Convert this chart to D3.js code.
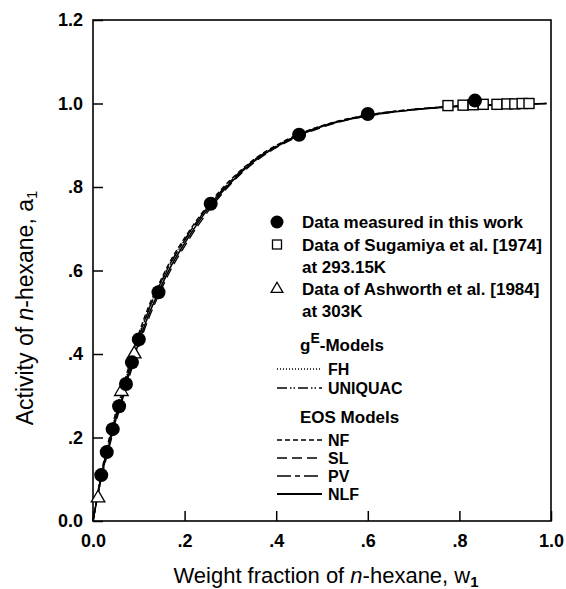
<!DOCTYPE html>
<html><head><meta charset="utf-8">
<script src="https://cdn.jsdelivr.net/npm/d3@7"></script>
<style>body{margin:0;background:#fff}svg{display:block}text{font-family:"Liberation Sans",Arial,sans-serif;fill:#000}</style>
</head><body><svg id="c" width="566" height="589"></svg>
<script>
const xTicks = [0, 0.2, 0.4, 0.6, 0.8, 1.0];
const xTickLabels = ["0.0", ".2", ".4", ".6", ".8", "1.0"];
const yTicks = [0, 0.2, 0.4, 0.6, 0.8, 1.0, 1.2];
const yTickLabels = ["0.0", ".2", ".4", ".6", ".8", "1.0", "1.2"];

// measured in this work
const measW = [0.018, 0.03, 0.043, 0.057, 0.072, 0.085, 0.10, 0.143, 0.257, 0.45, 0.60, 0.834];
const measA = [0.11, 0.165, 0.22, 0.275, 0.328, 0.38, 0.435, 0.548, 0.76, 0.925, 0.975, 1.007];
// Sugamiya et al. 1974
const sugW = [0.775, 0.808, 0.83, 0.852, 0.882, 0.904, 0.921, 0.937, 0.952];
const sugA = [0.995, 0.996, 0.997, 0.998, 0.998, 0.999, 0.999, 1.0, 1.0];
// Ashworth et al. 1984
const ashW = [0.011, 0.062, 0.09];
const ashA = [0.055, 0.31, 0.40];

// model curves
const curveW = [0, 0.005, 0.01, 0.018, 0.03, 0.043, 0.057, 0.072, 0.085, 0.10, 0.12, 0.143, 0.17, 0.2, 0.257, 0.3, 0.35, 0.4, 0.45, 0.5, 0.55, 0.6, 0.7, 0.8, 0.9, 0.99];
const fhA =   [0, 0.032, 0.064, 0.112, 0.17, 0.228, 0.287, 0.343, 0.392, 0.445, 0.506, 0.563, 0.622, 0.675, 0.762, 0.814, 0.862, 0.897, 0.924, 0.945, 0.96, 0.971, 0.985, 0.993, 0.997, 1.0];
const uniqA = [0, 0.031, 0.062, 0.109, 0.166, 0.222, 0.28, 0.336, 0.385, 0.438, 0.5, 0.557, 0.618, 0.672, 0.76, 0.813, 0.862, 0.898, 0.925, 0.946, 0.961, 0.972, 0.986, 0.994, 0.998, 1.0];
const nfA =   [0, 0.033, 0.066, 0.115, 0.174, 0.232, 0.291, 0.347, 0.396, 0.449, 0.51, 0.566, 0.625, 0.678, 0.765, 0.817, 0.865, 0.9, 0.927, 0.947, 0.962, 0.973, 0.986, 0.994, 0.998, 1.0];
const slA =   [0, 0.029, 0.058, 0.101, 0.154, 0.208, 0.264, 0.318, 0.366, 0.419, 0.481, 0.54, 0.602, 0.658, 0.75, 0.806, 0.857, 0.894, 0.922, 0.943, 0.959, 0.97, 0.985, 0.993, 0.997, 1.0];
const pvA =   [0, 0.031, 0.063, 0.11, 0.167, 0.224, 0.282, 0.338, 0.387, 0.44, 0.502, 0.559, 0.619, 0.673, 0.761, 0.814, 0.863, 0.898, 0.925, 0.946, 0.961, 0.972, 0.986, 0.994, 0.998, 1.0];
const nlfA =  [0, 0.03, 0.06, 0.105, 0.16, 0.215, 0.272, 0.327, 0.375, 0.428, 0.49, 0.548, 0.61, 0.665, 0.756, 0.81, 0.86, 0.896, 0.924, 0.945, 0.96, 0.971, 0.985, 0.993, 0.997, 1.0];

const models = [
  {name: "FH", vals: fhA, dash: "1,2", w: 1},
  {name: "UNIQUAC", vals: uniqA, dash: "10,3,1.5,2,1.5,3", w: 1.3},
  {name: "NF", vals: nfA, dash: "5,3", w: 1.3},
  {name: "SL", vals: slA, dash: "10,5", w: 1.3},
  {name: "PV", vals: pvA, dash: "14,4,5,4", w: 1.3},
  {name: "NLF", vals: nlfA, dash: null, w: 1.6}
];

const svg = d3.select("#c");
const L = 93, R = 551, T = 20, B = 521;
const x = d3.scaleLinear().domain([0, 1]).range([L, R]);
const y = d3.scaleLinear().domain([0, 1.2]).range([B, T]);

// frame
svg.append("rect").attr("x", L).attr("y", T).attr("width", R - L).attr("height", B - T)
  .attr("fill", "none").attr("stroke", "#000").attr("stroke-width", 1.6);

const xAxis = d3.axisBottom(x).tickValues(xTicks).tickSize(-10).tickPadding(13)
  .tickFormat((d, i) => xTickLabels[i]);
const yAxis = d3.axisLeft(y).tickValues(yTicks).tickSize(-10).tickPadding(10)
  .tickFormat((d, i) => yTickLabels[i]);

const gx = svg.append("g").attr("transform", `translate(0,${B})`).call(xAxis);
const gy = svg.append("g").attr("transform", `translate(${L},0)`).call(yAxis);
[gx, gy].forEach(g => {
  g.select(".domain").remove();
  g.selectAll(".tick line").attr("stroke", "#000").attr("stroke-width", 1.5);
  g.selectAll(".tick text").attr("font-size", 18).attr("font-weight", "bold")
    .attr("font-family", "Liberation Sans, Arial, sans-serif").attr("fill", "#000");
});

// curves
const line = d3.line().x(d => x(d[0])).y(d => y(d[1])).curve(d3.curveMonotoneX);
models.forEach(m => {
  svg.append("path").datum(curveW.map((w, i) => [w, m.vals[i]]))
    .attr("d", line).attr("fill", "none").attr("stroke", "#000")
    .attr("stroke-width", m.w).attr("stroke-dasharray", m.dash);
});

// markers
const tri = d3.symbol().type(d3.symbolTriangle);
svg.append("g").selectAll("path").data(ashW.map((w, i) => [w, ashA[i]])).join("path")
  .attr("d", tri.size(80)).attr("transform", d => `translate(${x(d[0])},${y(d[1])})`)
  .attr("fill", "#fff").attr("stroke", "#000").attr("stroke-width", 1.3);
svg.append("g").selectAll("rect").data(sugW.map((w, i) => [w, sugA[i]])).join("rect")
  .attr("x", d => x(d[0]) - 5).attr("y", d => y(d[1]) - 5).attr("width", 10).attr("height", 10)
  .attr("fill", "#fff").attr("stroke", "#000").attr("stroke-width", 1.4);
svg.append("g").selectAll("circle").data(measW.map((w, i) => [w, measA[i]])).join("circle")
  .attr("cx", d => x(d[0])).attr("cy", d => y(d[1])).attr("r", 7).attr("fill", "#000");

// axis titles
const xt = svg.append("text").attr("x", (L + R) / 2 + 4).attr("y", 583).attr("text-anchor", "middle")
  .attr("font-size", 22);
xt.append("tspan").text("Weight fraction of ");
xt.append("tspan").attr("font-style", "italic").text("n");
xt.append("tspan").text("-hexane, w");
xt.append("tspan").attr("font-size", 15).attr("dy", 4).attr("font-weight", "bold").text("1");

const yt = svg.append("text").attr("transform", `translate(33,308) rotate(-90)`)
  .attr("text-anchor", "middle").attr("font-size", 23);
yt.append("tspan").text("Activity of ");
yt.append("tspan").attr("font-style", "italic").text("n");
yt.append("tspan").text("-hexane, a");
yt.append("tspan").attr("font-size", 15).attr("dy", 4).text("1");

// legend
const lg = svg.append("g").attr("font-size", 17).attr("font-weight", "bold");
const mx = 277, tx = 302;
lg.append("circle").attr("cx", mx).attr("cy", 222).attr("r", 6.5).attr("fill", "#000");
lg.append("text").attr("x", tx).attr("y", 228).text("Data measured in this work");
lg.append("rect").attr("x", mx - 4.5).attr("y", 240).attr("width", 9).attr("height", 9)
  .attr("fill", "#fff").attr("stroke", "#000").attr("stroke-width", 1.3);
lg.append("text").attr("x", tx).attr("y", 251).text("Data of Sugamiya et al. [1974]");
lg.append("text").attr("x", tx).attr("y", 273).text("at 293.15K");
lg.append("path").attr("d", tri.size(60)).attr("transform", `translate(${mx},289)`)
  .attr("fill", "#fff").attr("stroke", "#000").attr("stroke-width", 1.3);
lg.append("text").attr("x", tx).attr("y", 295).text("Data of Ashworth et al. [1984]");
lg.append("text").attr("x", tx).attr("y", 317).text("at 303K");
const ge = lg.append("text").attr("x", tx - 2).attr("y", 351);
ge.append("tspan").text("g");
ge.append("tspan").attr("dy", -8).attr("font-size", 14).text("E");
ge.append("tspan").attr("dy", 8).text("-Models");
lg.append("text").attr("x", tx - 2).attr("y", 423).text("EOS Models");

const legY = {FH: 369, UNIQUAC: 388, NF: 440, SL: 458, PV: 476, NLF: 494};
models.forEach(m => {
  lg.append("line").attr("x1", mx).attr("x2", 322).attr("y1", legY[m.name]).attr("y2", legY[m.name])
    .attr("stroke", "#000").attr("stroke-width", m.w + 0.3).attr("stroke-dasharray", m.dash);
  lg.append("text").attr("x", 328).attr("y", legY[m.name] + 5.5).attr("font-size", 16).text(m.name);
});
</script></body></html>
